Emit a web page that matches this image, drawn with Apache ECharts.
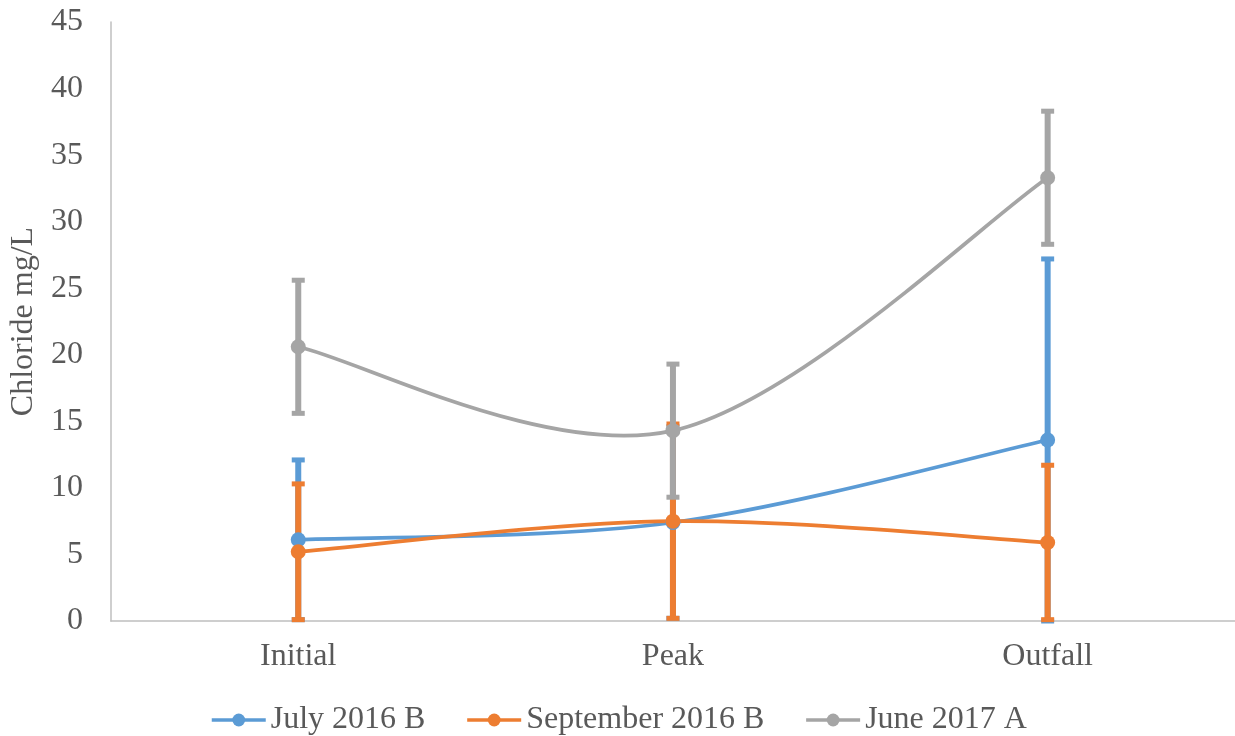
<!DOCTYPE html>
<html>
<head>
<meta charset="utf-8">
<script src="https://cdn.jsdelivr.net/npm/echarts@6/dist/echarts.min.js"></script>
<style>
  html, body { margin: 0; padding: 0; background: #ffffff; }
  #chart { width: 1235px; height: 736px; }
</style>
</head>
<body>
<div id="chart"></div>
<script>
// Sampling locations along the stream
const categories = ['Initial', 'Peak', 'Outfall'];

// Mean chloride (mg/L) per sampling event
const july2016 = [6.1, 7.4, 13.6];
const sept2016 = [5.2, 7.5, 5.9];
const june2017 = [20.6, 14.3, 33.3];

// Error bar half-widths (mg/L)
const july2016Err = [6.0, 7.2, 13.6];
const sept2016Err = [5.1, 7.3, 5.8];
const june2017Err = [5.0, 5.0, 5.0];

const seriesNames = ['July 2016 B', 'September 2016 B', 'June 2017 A'];
const colors = ['#5B9BD5', '#ED7D31', '#A5A5A5'];
const yTicks = { min: 0, max: 45, step: 5 };

const FONT = '"Liberation Serif", "Times New Roman", serif';
const TEXT = '#595959';
const LINE_W = 3.75;

// Smoothed connecting curve: cubic Bezier segments with Catmull-Rom style
// control points (1/6 of the neighbour chord), ends duplicated.
function curveSeries(name, values, color) {
  return {
    name: name + ' curve',
    type: 'custom',
    z: 2,
    silent: true,
    data: values.map((v, i) => [i, v]),
    renderItem: function (params, api) {
      const i = params.dataIndex;
      const n = values.length;
      if (i >= n - 1) return null;
      const pt = k => {
        const j = Math.max(0, Math.min(n - 1, k));
        return api.coord([j, values[j]]);
      };
      const p0 = pt(i - 1), p1 = pt(i), p2 = pt(i + 1), p3 = pt(i + 2);
      const c1 = [p1[0] + (p2[0] - p0[0]) / 6, p1[1] + (p2[1] - p0[1]) / 6];
      const c2 = [p2[0] - (p3[0] - p1[0]) / 6, p2[1] - (p3[1] - p1[1]) / 6];
      return {
        type: 'bezierCurve',
        shape: { x1: p1[0], y1: p1[1], x2: p2[0], y2: p2[1], cpx1: c1[0], cpy1: c1[1], cpx2: c2[0], cpy2: c2[1] },
        style: { stroke: color, lineWidth: LINE_W, fill: null, lineCap: 'round' }
      };
    }
  };
}

// Markers (the connecting line itself is drawn by curveSeries)
function markerSeries(name, values, color) {
  return {
    name: name,
    type: 'line',
    data: values,
    symbol: 'circle',
    symbolSize: 15,
    z: 2,
    lineStyle: { color: color, width: LINE_W, opacity: 0 },
    itemStyle: { color: color },
    emphasis: { disabled: true }
  };
}

function errorSeries(name, values, errs, color) {
  return {
    name: name + ' error',
    type: 'custom',
    z: 1,
    silent: true,
    data: values.map((v, i) => [i, v, errs[i]]),
    renderItem: function (params, api) {
      const idx = api.value(0);
      const v = api.value(1);
      const e = api.value(2);
      const lo = Math.max(yTicks.min, v - e);
      const hi = v + e;
      const pTop = api.coord([idx, hi]);
      const pBot = api.coord([idx, lo]);
      const cap = 6.5;
      const bar = { stroke: color, lineWidth: 6 };
      const capStyle = { stroke: color, lineWidth: 5 };
      return {
        type: 'group',
        children: [
          { type: 'line', shape: { x1: pTop[0], y1: pTop[1], x2: pBot[0], y2: pBot[1] }, style: bar },
          { type: 'line', shape: { x1: pTop[0] - cap, y1: pTop[1], x2: pTop[0] + cap, y2: pTop[1] }, style: capStyle },
          { type: 'line', shape: { x1: pBot[0] - cap, y1: pBot[1], x2: pBot[0] + cap, y2: pBot[1] }, style: capStyle }
        ]
      };
    }
  };
}

const chart = echarts.init(document.getElementById('chart'), null, { renderer: 'canvas' });

chart.setOption({
  animation: false,
  backgroundColor: '#ffffff',
  textStyle: { fontFamily: FONT, color: TEXT },
  grid: { left: 108, right: -2, top: 22, bottom: 115, containLabel: false },
  legend: {
    data: seriesNames.map((n, i) => ({
      name: n,
      itemStyle: { color: colors[i] },
      lineStyle: { color: colors[i], width: 3.5, opacity: 1 }
    })),
    top: 699,
    left: 205,
    itemGap: 40,
    itemWidth: 54,
    itemHeight: 16,
    textStyle: { fontFamily: FONT, fontSize: 32, color: TEXT },
    selectedMode: false
  },
  xAxis: {
    type: 'category',
    data: categories,
    boundaryGap: true,
    axisLine: { show: true, lineStyle: { color: '#BFBFBF', width: 1.5 } },
    axisTick: { show: false },
    axisLabel: { fontFamily: FONT, fontSize: 32, color: TEXT, margin: 20 },
    splitLine: { show: false }
  },
  yAxis: {
    type: 'value',
    min: yTicks.min,
    max: yTicks.max,
    interval: yTicks.step,
    name: 'Chloride mg/L',
    nameLocation: 'middle',
    nameGap: 64,
    nameTextStyle: { fontFamily: FONT, fontSize: 32, color: TEXT },
    axisLine: { show: true, lineStyle: { color: '#BFBFBF', width: 1.5 } },
    axisTick: { show: false },
    axisLabel: { fontFamily: FONT, fontSize: 32, color: TEXT, margin: 28 },
    splitLine: { show: false }
  },
  series: [
    errorSeries(seriesNames[0], july2016, july2016Err, colors[0]),
    errorSeries(seriesNames[1], sept2016, sept2016Err, colors[1]),
    errorSeries(seriesNames[2], june2017, june2017Err, colors[2]),
    curveSeries(seriesNames[0], july2016, colors[0]),
    markerSeries(seriesNames[0], july2016, colors[0]),
    curveSeries(seriesNames[1], sept2016, colors[1]),
    markerSeries(seriesNames[1], sept2016, colors[1]),
    curveSeries(seriesNames[2], june2017, colors[2]),
    markerSeries(seriesNames[2], june2017, colors[2])
  ]
});
</script>
</body>
</html>
